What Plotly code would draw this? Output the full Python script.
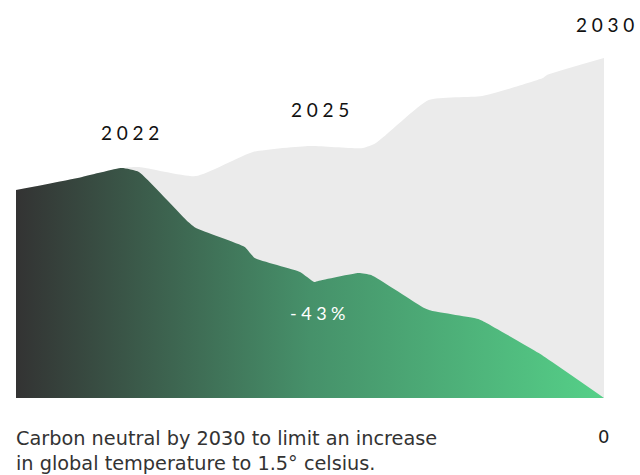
import plotly.graph_objects as go

# Index: 2020 emission level = 100
years_bau = [2020, 2021.05, 2021.8, 2022.09, 2023.06, 2024.03, 2025.0, 2025.9, 2026.12,
             2027.02, 2027.93, 2028.96, 2029.03, 2030]
bau = [100, 105.8, 110.6, 111.1, 106.7, 118.3, 121.2, 120.2, 122.6,
       143.3, 145.2, 153.8, 155.3, 163.5]

years_target = [2020, 2021.05, 2021.8, 2022.09, 2022.93, 2023.06, 2023.89, 2024.06, 2024.83,
                2025.07, 2025.14, 2025.83, 2026.04, 2026.94, 2027.09, 2027.86, 2028.0,
                2028.89, 2030]
target = [100, 105.8, 110.6, 108.7, 84.6, 81.7, 72.6, 67.3, 60.6,
          55.8, 56.3, 60.1, 59.1, 43.3, 41.8, 38.0, 36.1,
          21.6, 0]

year_labels = ["2022", "2025", "2030"]
reduction_label = "-43%"
end_label = "0"
caption = "Carbon neutral by 2030 to limit an increase<br>in global temperature to 1.5° celsius."

W, H = 640, 475
L, R, T, B = 16, 36, 0, 77
PW, PH = W - L - R, H - T - B


def px(x):
    return (x - L) / PW


def py(y):
    return (H - B - y) / PH


def spaced(s):
    return "\u2005".join(s)


fig = go.Figure()
fig.add_trace(go.Scatter(
    x=years_bau, y=bau, mode="lines", line=dict(width=0, shape="spline", smoothing=0.5),
    fill="tozeroy", fillcolor="#ebebeb", hoverinfo="skip", showlegend=False))
fig.add_trace(go.Scatter(
    x=years_target, y=target, mode="lines", line=dict(width=0, shape="spline", smoothing=0.4),
    fill="tozeroy",
    fillgradient=dict(type="horizontal",
                      colorscale=[[0, "#333333"], [0.5, "#46916a"], [1, "#55d088"]]),
    hoverinfo="skip", showlegend=False))

lab_font = dict(family="Lato, Noto Sans, sans-serif", size=19, color="#111111")
anns = [
    dict(x=px(130), y=py(133), text=spaced(year_labels[0])),
    dict(x=px(320), y=py(110), text=spaced(year_labels[1])),
    dict(x=px(605), y=py(24), text=spaced(year_labels[2])),
]
for a in anns:
    fig.add_annotation(xref="paper", yref="paper", showarrow=False, xanchor="center",
                       yanchor="middle", font=lab_font, **a)
fig.add_annotation(xref="paper", yref="paper", x=px(318), y=py(313), showarrow=False,
                   text=spaced(reduction_label), xanchor="center", yanchor="middle",
                   font=dict(family="Lato, Noto Sans, sans-serif", size=18, color="white"))
fig.add_annotation(xref="paper", yref="paper", x=px(603), y=py(436), showarrow=False,
                   text=end_label, xanchor="center", yanchor="middle",
                   font=dict(family="DejaVu Sans, sans-serif", size=18, color="#222222"))
fig.add_annotation(xref="paper", yref="paper", x=px(14), y=py(451), showarrow=False,
                   text=caption, xanchor="left", yanchor="middle", align="left",
                   font=dict(family="DejaVu Sans, sans-serif", size=19.3, color="#333333"))

fig.update_layout(
    width=W, height=H, margin=dict(l=L, r=R, t=T, b=B),
    paper_bgcolor="white", plot_bgcolor="white",
    xaxis=dict(range=[2020, 2030], visible=False, fixedrange=True),
    yaxis=dict(range=[0, (H - B) * 100 / 208], visible=False, fixedrange=True),
)
fig.write_html("out.html", config={"displayModeBar": False})
